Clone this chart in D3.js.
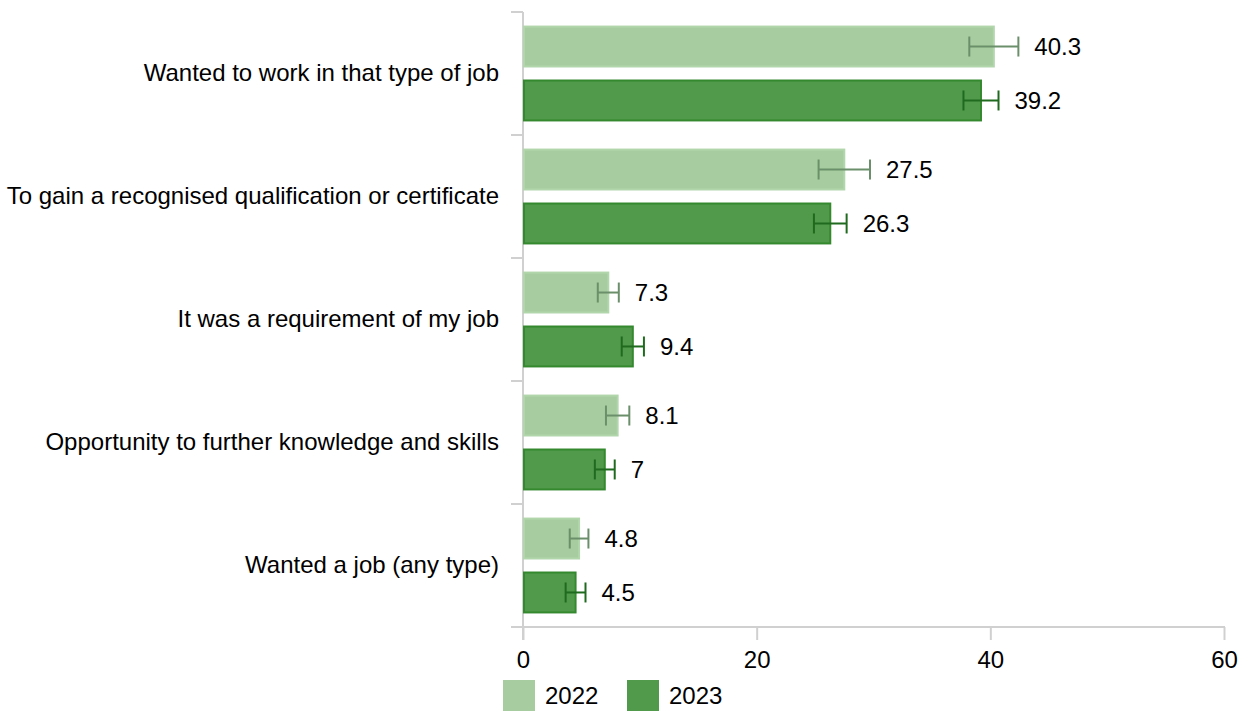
<!DOCTYPE html>
<html><head><meta charset="utf-8">
<script src="https://cdn.jsdelivr.net/npm/d3@7"></script>
<style>body{margin:0;background:#fff}svg{display:block;font-family:"Liberation Sans",Arial,sans-serif}</style>
</head><body><svg id="c" width="1241" height="711"></svg>
<script>
const categories = ["Wanted to work in that type of job","To gain a recognised qualification or certificate","It was a requirement of my job","Opportunity to further knowledge and skills","Wanted a job (any type)"];
const seriesNames = ["2022","2023"];
const values2022 = [40.3, 27.5, 7.3, 8.1, 4.8];
const values2023 = [39.2, 26.3, 9.4, 7, 4.5];
const err2022 = [2.1, 2.2, 0.9, 1.0, 0.8];
const err2023 = [1.5, 1.4, 0.95, 0.85, 0.85];
const xTicks = [0, 20, 40, 60];

const series = [
  {name: seriesNames[0], values: values2022, err: err2022, fill: "#a6cc9f", stroke: "#b2d6ac", errColor: "#6b8f6a"},
  {name: seriesNames[1], values: values2023, err: err2023, fill: "#519a4b", stroke: "#34892f", errColor: "#1f6a1f"}
];

const FS = 24;
const svg = d3.select("#c");
const L = 523, R = 1224, T = 12, B = 627;
const x = d3.scaleLinear().domain([0, 60]).range([L, R]);
const y0 = d3.scaleBand().domain(categories).range([T, B]).padding(0);
const y1 = d3.scaleBand().domain(seriesNames).range([0, y0.bandwidth()]).paddingInner(0.26).paddingOuter(0.27);
const axisColor = "#d0d0d0";

// x axis
const xa = svg.append("g").attr("transform", `translate(0,${B})`)
  .call(d3.axisBottom(x).tickValues(xTicks).tickSize(13).tickPadding(11).tickFormat(d3.format("d")));
xa.select(".domain").remove();
xa.selectAll(".tick line").attr("stroke", axisColor).attr("stroke-width", 2);
xa.selectAll(".tick text").attr("font-size", FS).attr("fill", "#000").attr("font-family", "Liberation Sans, Arial, sans-serif");
svg.append("line").attr("x1", L - 12).attr("x2", R + 1).attr("y1", B).attr("y2", B).attr("stroke", axisColor).attr("stroke-width", 2);

// y axis
svg.append("line").attr("x1", L).attr("x2", L).attr("y1", T).attr("y2", B + 13).attr("stroke", axisColor).attr("stroke-width", 2);
svg.selectAll(".ytick").data(categories).join("line").attr("class", "ytick")
  .attr("x1", L - 12).attr("x2", L).attr("y1", d => y0(d)).attr("y2", d => y0(d))
  .attr("stroke", axisColor).attr("stroke-width", 2);
svg.selectAll(".ylab").data(categories).join("text").attr("class", "ylab")
  .attr("x", L - 24).attr("y", d => y0(d) + y0.bandwidth() / 2).attr("dy", "0.3em")
  .attr("text-anchor", "end").attr("font-size", FS).attr("fill", "#000").text(d => d);

// bars
series.forEach(s => {
  const g = svg.append("g");
  const rows = categories.map((c, i) => ({c, v: s.values[i], e: s.err[i]}));
  g.selectAll("rect").data(rows).join("rect")
    .attr("x", x(0) + 1).attr("y", d => y0(d.c) + y1(s.name))
    .attr("width", d => x(d.v) - x(0) - 1).attr("height", y1.bandwidth())
    .attr("fill", s.fill).attr("stroke", s.stroke).attr("stroke-width", 2);
  const cy = d => y0(d.c) + y1(s.name) + y1.bandwidth() / 2;
  g.selectAll(".eb").data(rows).join("line").attr("class", "eb")
    .attr("x1", d => x(d.v - d.e)).attr("x2", d => x(d.v + d.e)).attr("y1", cy).attr("y2", cy)
    .attr("stroke", s.errColor).attr("stroke-width", 2);
  g.selectAll(".ecl").data(rows).join("line").attr("class", "ecl")
    .attr("x1", d => x(d.v - d.e)).attr("x2", d => x(d.v - d.e)).attr("y1", d => cy(d) - 10).attr("y2", d => cy(d) + 10)
    .attr("stroke", s.errColor).attr("stroke-width", 2);
  g.selectAll(".ecr").data(rows).join("line").attr("class", "ecr")
    .attr("x1", d => x(d.v + d.e)).attr("x2", d => x(d.v + d.e)).attr("y1", d => cy(d) - 10).attr("y2", d => cy(d) + 10)
    .attr("stroke", s.errColor).attr("stroke-width", 2);
  g.selectAll(".vl").data(rows).join("text").attr("class", "vl")
    .attr("x", d => x(d.v + d.e) + 16).attr("y", cy).attr("dy", "0.35em")
    .attr("font-size", FS).attr("fill", "#000").text(d => d.v);
});

// legend
const lg = svg.append("g");
const legX = [503, 627];
series.forEach((s, i) => {
  lg.append("rect").attr("x", legX[i]).attr("y", 680).attr("width", 32).attr("height", 32).attr("fill", s.fill);
  lg.append("text").attr("x", legX[i] + 42).attr("y", 696).attr("dy", "0.35em")
    .attr("font-size", FS).attr("fill", "#000").text(s.name);
});
</script></body></html>
